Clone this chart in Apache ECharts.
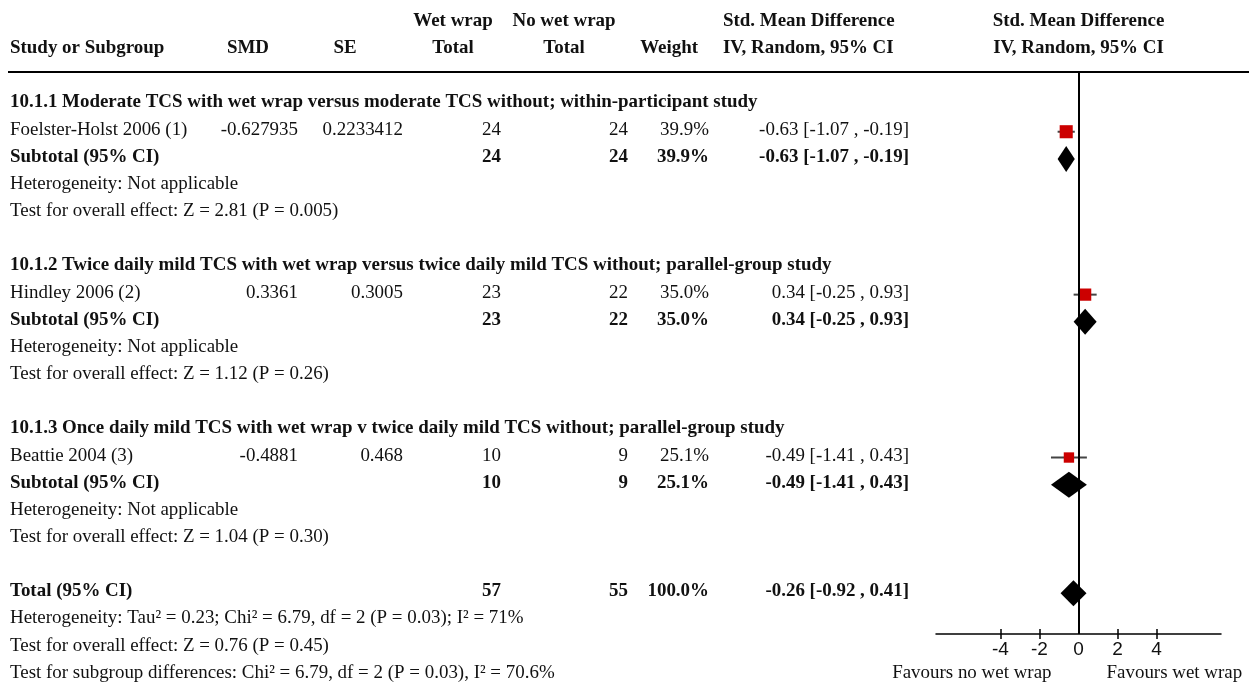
<!DOCTYPE html>
<html><head><meta charset="utf-8">
<script src="https://cdn.jsdelivr.net/npm/echarts@6/dist/echarts.min.js"></script>
<style>html,body{margin:0;padding:0;background:#fff}#c{width:1249px;height:684px}</style>
</head><body><div id="c"></div>
<script>
// ---------- DATA ----------
const groupTitles = [
  '10.1.1 Moderate TCS with wet wrap versus moderate TCS without; within-participant study',
  '10.1.2 Twice daily mild TCS with wet wrap versus twice daily mild TCS without; parallel-group study',
  '10.1.3 Once daily mild TCS with wet wrap v twice daily mild TCS without; parallel-group study'
];
const studies = ['Foelster-Holst 2006 (1)', 'Hindley 2006 (2)', 'Beattie 2004 (3)'];
const smdText = ['-0.627935', '0.3361', '-0.4881'];
const seText = ['0.2233412', '0.3005', '0.468'];
const wetTotal = [24, 23, 10];
const noWetTotal = [24, 22, 9];
const weights = [39.9, 35.0, 25.1];
const estimates = [-0.63, 0.34, -0.49];
const ciLow = [-1.07, -0.25, -1.41];
const ciHigh = [-0.19, 0.93, 0.43];
const subEstimates = [-0.63, 0.34, -0.49];
const subLow = [-1.07, -0.25, -1.41];
const subHigh = [-0.19, 0.93, 0.43];
const hetTexts = ['Heterogeneity: Not applicable', 'Heterogeneity: Not applicable', 'Heterogeneity: Not applicable'];
const effectTexts = [
  'Test for overall effect: Z = 2.81 (P = 0.005)',
  'Test for overall effect: Z = 1.12 (P = 0.26)',
  'Test for overall effect: Z = 1.04 (P = 0.30)'
];
const totalWet = 57, totalNoWet = 55, totalWeight = 100.0;
const totalEst = -0.26, totalLow = -0.92, totalHigh = 0.41;
const totalNotes = [
  'Heterogeneity: Tau\u00b2 = 0.23; Chi\u00b2 = 6.79, df = 2 (P = 0.03); I\u00b2 = 71%',
  'Test for overall effect: Z = 0.76 (P = 0.45)',
  'Test for subgroup differences: Chi\u00b2 = 6.79, df = 2 (P = 0.03), I\u00b2 = 70.6%'
];
const axisTicks = [-4, -2, 0, 2, 4];
const favours = ['Favours no wet wrap', 'Favours wet wrap'];

// ---------- LAYOUT / STYLE ----------
const FONT = '"Liberation Serif", "Times New Roman", serif';
const SANS = '"Liberation Sans", Arial, sans-serif';
const FS = 18.95;
const COLS = {
  study: {x: 10, align: 'left'},
  smd: {x: 298, align: 'right'},
  se: {x: 403, align: 'right'},
  wet: {x: 501, align: 'right'},
  nowet: {x: 628, align: 'right'},
  weight: {x: 709, align: 'right'},
  ci: {x: 909, align: 'right'},
  hSmd: {x: 248, align: 'center'},
  hSe: {x: 345, align: 'center'},
  hWet: {x: 453, align: 'center'},
  hNoWet: {x: 564, align: 'center'},
  hWeight: {x: 698, align: 'right'},
  hCi: {x: 723, align: 'left'}
};
const fmt = v => v.toFixed(2);
const ciStr = (e, l, h) => fmt(e) + ' [' + fmt(l) + ' , ' + fmt(h) + ']';

const texts = [];
function add(row, col, text, bold) { texts.push({row, col, text: String(text), bold: !!bold}); }

// headers
add(-3.0, 'hWet', 'Wet wrap', 1);
add(-3.0, 'hNoWet', 'No wet wrap', 1);
add(-3.0, 'hCi', 'Std. Mean Difference', 1);
add(-3.0, 'plot', 'Std. Mean Difference', 1);
add(-2.0, 'study', 'Study or Subgroup', 1);
add(-2.0, 'hSmd', 'SMD', 1);
add(-2.0, 'hSe', 'SE', 1);
add(-2.0, 'hWet', 'Total', 1);
add(-2.0, 'hNoWet', 'Total', 1);
add(-2.0, 'hWeight', 'Weight', 1);
add(-2.0, 'hCi', 'IV, Random, 95% CI', 1);
add(-2.0, 'plot', 'IV, Random, 95% CI', 1);

const studyRows = [], subRows = [];
studies.forEach((s, i) => {
  const base = i * 6;
  add(base, 'study', groupTitles[i], 1);
  const r = base + 1;
  studyRows.push(r);
  add(r, 'study', s);
  add(r, 'smd', smdText[i]);
  add(r, 'se', seText[i]);
  add(r, 'wet', wetTotal[i]);
  add(r, 'nowet', noWetTotal[i]);
  add(r, 'weight', weights[i].toFixed(1) + '%');
  add(r, 'ci', ciStr(estimates[i], ciLow[i], ciHigh[i]));
  const sr = base + 2;
  subRows.push(sr);
  add(sr, 'study', 'Subtotal (95% CI)', 1);
  add(sr, 'wet', wetTotal[i], 1);
  add(sr, 'nowet', noWetTotal[i], 1);
  add(sr, 'weight', weights[i].toFixed(1) + '%', 1);
  add(sr, 'ci', ciStr(subEstimates[i], subLow[i], subHigh[i]), 1);
  add(base + 3, 'study', hetTexts[i]);
  add(base + 4, 'study', effectTexts[i]);
});
const totalRow = 18;
add(totalRow, 'study', 'Total (95% CI)', 1);
add(totalRow, 'wet', totalWet, 1);
add(totalRow, 'nowet', totalNoWet, 1);
add(totalRow, 'weight', totalWeight.toFixed(1) + '%', 1);
add(totalRow, 'ci', ciStr(totalEst, totalLow, totalHigh), 1);
totalNotes.forEach((t, k) => add(totalRow + 1 + k, 'study', t));
add(21, 'favL', favours[0]);
add(21, 'favR', favours[1]);

const studyData = studies.map((s, i) => [estimates[i], studyRows[i], ciLow[i], ciHigh[i], weights[i]]);
const diamondData = subEstimates.map((e, i) => [e, subRows[i], subLow[i], subHigh[i]]);
diamondData.push([totalEst, totalRow, totalLow, totalHigh]);

const chart = echarts.init(document.getElementById('c'), null, {renderer: 'canvas'});
const option = {
  animation: false,
  backgroundColor: '#fff',
  grid: {left: 936, top: 72, width: 285, height: 562},
  xAxis: [{
    type: 'value', min: -7.3, max: 7.3, position: 'bottom',
    splitLine: {show: false},
    axisLine: {show: true, onZero: false, lineStyle: {color: '#000', width: 1.5}},
    axisTick: {show: true, length: 5, inside: false, customValues: [-4, -2, 2, 4], lineStyle: {color: '#000', width: 1.5}},
    axisLabel: {customValues: axisTicks, margin: 6, color: '#111', fontFamily: SANS, fontSize: 19,
      formatter: v => String(v)}
  }, {
    type: 'value', min: -7.3, max: 7.3, position: 'bottom', offset: 0,
    splitLine: {show: false},
    axisLine: {show: false, onZero: false},
    axisTick: {show: true, length: 5, inside: true, customValues: [-4, -2, 2, 4], lineStyle: {color: '#000', width: 1.5}},
    axisLabel: {show: false}
  }],
  yAxis: {
    type: 'value', min: -1.2, max: 19.5, inverse: true, show: false
  },
  graphic: [{
    type: 'line', shape: {x1: 8, y1: 72, x2: 1249, y2: 72},
    style: {stroke: '#000', lineWidth: 2}, z: 10
  }],
  series: [{
    type: 'custom', name: 'text', clip: false,
    data: texts.map(t => [0, t.row]),
    encode: {x: 0, y: 1},
    renderItem: (params, api) => {
      const t = texts[params.dataIndex];
      const p = api.coord([0, t.row]);
      let x, align;
      if (t.col === 'plot') { x = p[0]; align = 'center'; }
      else if (t.col === 'favL') { x = p[0] - 27; align = 'right'; }
      else if (t.col === 'favR') { x = p[0] + 28; align = 'left'; }
      else { x = COLS[t.col].x; align = COLS[t.col].align; }
      return {
        type: 'text',
        style: {
          text: t.text, x: x, y: p[1] - 2, align: align, verticalAlign: 'middle',
          font: (t.bold ? 'bold ' : '') + FS + 'px ' + FONT, fill: '#111'
        }
      };
    }
  }, {
    type: 'custom', name: 'studies', clip: false,
    data: studyData,
    encode: {x: 0, y: 1},
    renderItem: (params, api) => {
      const c = api.coord([api.value(0), api.value(1)]);
      const l = api.coord([api.value(2), api.value(1)]);
      const h = api.coord([api.value(3), api.value(1)]);
      const s = 2.07 * Math.sqrt(api.value(4));
      return {
        type: 'group',
        children: [{
          type: 'line', shape: {x1: l[0], y1: c[1], x2: h[0], y2: c[1]},
          style: {stroke: '#444', lineWidth: 2}
        }, {
          type: 'rect', shape: {x: c[0] - s / 2, y: c[1] - s / 2, width: s, height: s},
          style: {fill: '#cc0000'}
        }]
      };
    },
    markLine: {
      silent: true, symbol: 'none', label: {show: false},
      lineStyle: {color: '#000', width: 2, type: 'solid'},
      data: [{xAxis: 0}]
    }
  }, {
    type: 'custom', name: 'diamonds', clip: false,
    data: diamondData,
    encode: {x: 0, y: 1},
    renderItem: (params, api) => {
      const c = api.coord([api.value(0), api.value(1)]);
      const l = api.coord([api.value(2), api.value(1)]);
      const h = api.coord([api.value(3), api.value(1)]);
      const hh = 13;
      return {
        type: 'polygon',
        shape: {points: [[l[0], c[1]], [c[0], c[1] - hh], [h[0], c[1]], [c[0], c[1] + hh]]},
        style: {fill: '#000'}
      };
    }
  }]
};
chart.setOption(option);
</script>
</body></html>
